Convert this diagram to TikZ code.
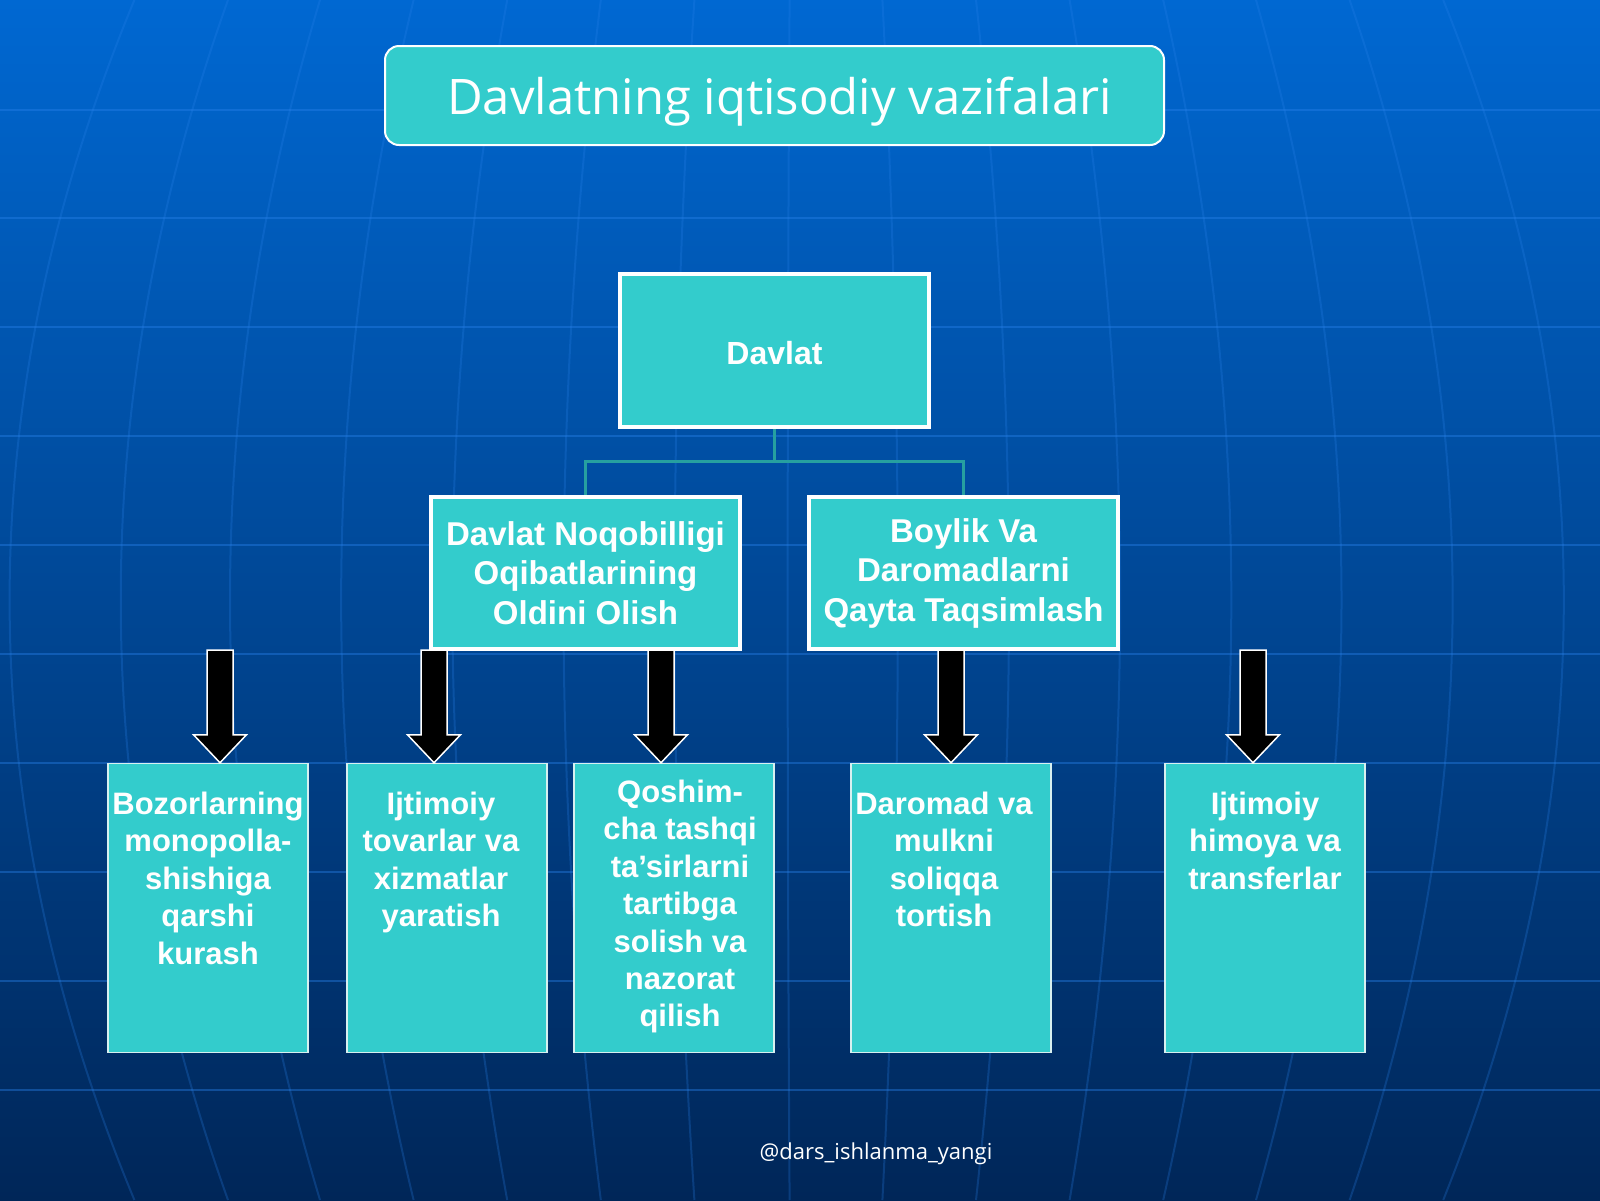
\documentclass[tikz,border=0pt]{standalone}
\usepackage{fontspec}
\setmainfont{Liberation Sans}
\newfontfamily\opensans{Open Sans}
\usetikzlibrary{positioning, calc}
\definecolor{bgtop}{RGB}{0,104,210}
\definecolor{bgmid}{RGB}{0,74,152}
\definecolor{bgbot}{RGB}{0,38,88}
\definecolor{tealbox}{RGB}{51,204,204}
\definecolor{tealline}{RGB}{38,160,160}
\definecolor{gridblue}{RGB}{40,130,235}
\definecolor{leafedge}{RGB}{215,240,240}

% block arrow from a start coordinate down to the top of a box
\newcommand{\blockarrow}[2]{%
  \draw[arrowblk] ($(#1)+(-13,0)$) -- ($(#1 |- #2.north)+(-13,-28)$)
    -- ($(#1 |- #2.north)+(-26.5,-28)$) -- (#1 |- #2.north)
    -- ($(#1 |- #2.north)+(26.5,-28)$) -- ($(#1 |- #2.north)+(13,-28)$)
    -- ($(#1)+(13,0)$) -- cycle;}

\begin{document}
\begin{tikzpicture}[x=1pt, y=-1pt,
  gridline/.style={draw=gridblue, line width=2pt, opacity=0.4},
  meridian/.style={draw=gridblue, line width=2pt, opacity=0.25},
  titlebox/.style={draw=white, line width=2pt, rounded corners=14pt, fill=tealbox, minimum width=779pt, minimum height=99pt, inner sep=0pt, text=white, font=\opensans\fontsize{49}{58}\selectfont},
  rootbox/.style={draw=white, line width=4pt, fill=tealbox, minimum width=309pt, minimum height=153pt, inner sep=0pt, text=white, font=\fontsize{32}{38}\selectfont\bfseries},
  midbox/.style={draw=white, line width=4pt, fill=tealbox, minimum width=309pt, minimum height=152pt, inner sep=0pt, align=center, text=white, font=\fontsize{33}{39.5}\selectfont\bfseries},
  leafbox/.style={draw=leafedge, line width=1.5pt, fill=tealbox, minimum width=200pt, minimum height=289pt, inner sep=0pt},
  leaftext/.style={align=center, inner sep=0pt, text=white, font=\fontsize{31}{37.4}\selectfont\bfseries},
  conn/.style={draw=tealline, line width=3pt},
  arrowblk/.style={fill=black, draw=white, line width=1.5pt, line join=miter}
]
  \useasboundingbox (0,0) rectangle (1600,1200);
  \shade[top color=bgtop, middle color=bgmid, bottom color=bgbot] (0,0) rectangle (1600,1200);
  \begin{scope}
    \clip (0,0) rectangle (1600,1200);
    \foreach \gy in {110,218,327,436,545,654,763,872,981,1090}
      \draw[gridline] (0,\gy) -- (1600,\gy);
    \foreach \gx in {-32,85,200,317,434,551,668,787,903,1020,1137,1254,1370,1487,1604}{
      \pgfmathsetmacro\gt{800+(\gx-800)*0.8}
      \draw[meridian] (\gt,0) .. controls (\gx,400) and (\gx,800) .. (\gt,1200);}
  \end{scope}

  \node[titlebox] (title) at (774.5,95.5) {\rule{0pt}{50pt}\hspace*{10pt}Davlatning iqtisodiy vazifalari};
  \node[rootbox] (davlat) at (774.5,350.5) {\rule{0pt}{29pt}Davlat};
  \node[midbox] (m1) at (585.5,573) {Davlat Noqobilligi\\Oqibatlarining\\Oldini Olish};
  \node[midbox] (m2) at (963.5,573) {Boylik Va\\Daromadlarni\\Qayta Taqsimlash};

  \draw[conn] (davlat.south) -- ++(0,32) -| (m1.north);
  \draw[conn] (davlat.south) -- ++(0,32) -| (m2.north);

  \node[leafbox] (b1) at (208,908) {};
  \node[leafbox] (b2) at (447,908) {};
  \node[leafbox] (b3) at (674,908) {};
  \node[leafbox] (b4) at (951,908) {};
  \node[leafbox] (b5) at (1265,908) {};

  \node[leaftext, below=29pt of b1.north] (t1) {Bozorlarning\\monopolla-\\shishiga\\qarshi\\kurash};
  \node[leaftext, below=29pt of b2.north, xshift=-6pt] (t2) {Ijtimoiy\\tovarlar va\\xizmatlar\\yaratish};
  \node[leaftext, below=17pt of b3.north, xshift=6pt] (t3) {Qoshim-\\cha tashqi\\ta’sirlarni\\tartibga\\solish va\\nazorat\\qilish};
  \node[leaftext, below=29pt of b4.north, xshift=-7pt] (t4) {Daromad va\\mulkni\\soliqqa\\tortish};
  \node[leaftext, below=29pt of b5.north] (t5) {Ijtimoiy\\himoya va\\transferlar};

  \coordinate (a1) at (220,650);
  \coordinate (a2) at (434,650);
  \coordinate (a3) at (661,650);
  \coordinate (a4) at (951,650);
  \coordinate (a5) at (1253,650);
  \blockarrow{a1}{b1}
  \blockarrow{a2}{b2}
  \blockarrow{a3}{b3}
  \blockarrow{a4}{b4}
  \blockarrow{a5}{b5}

  \node[text=white, font=\opensans\fontsize{22}{26}\selectfont] (tag) at (876,1154) {@dars\_ishlanma\_yangi};
\end{tikzpicture}
\end{document}
